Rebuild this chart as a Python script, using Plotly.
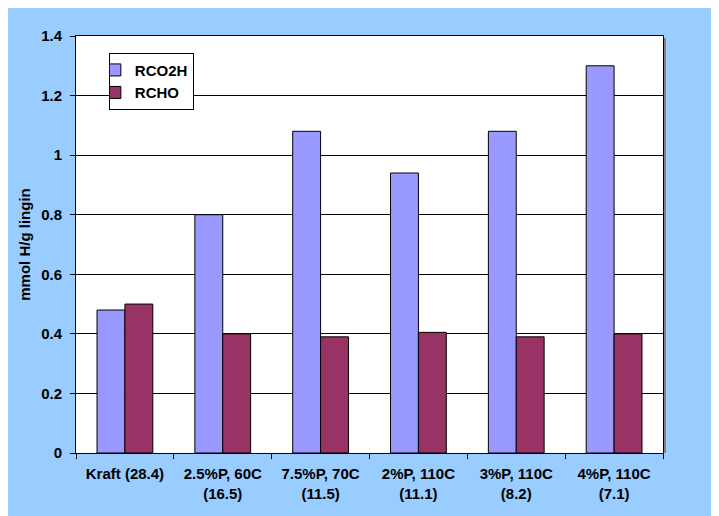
import plotly.graph_objects as go

categories = ["Kraft (28.4)", "2.5%P, 60C<br>(16.5)", "7.5%P, 70C<br>(11.5)",
              "2%P, 110C<br>(11.1)", "3%P, 110C<br>(8.2)", "4%P, 110C<br>(7.1)"]
rco2h = [0.48, 0.80, 1.08, 0.94, 1.08, 1.30]
rcho = [0.50, 0.40, 0.39, 0.405, 0.39, 0.40]
y_ticks = [0, 0.2, 0.4, 0.6, 0.8, 1, 1.2, 1.4]
y_tick_labels = ["0", "0.2", "0.4", "0.6", "0.8", "1", "1.2", "1.4"]

font = dict(family="Arial, Liberation Sans, sans-serif", size=15, color="black")

fig = go.Figure()
fig.add_trace(go.Bar(name="<b>RCO2H</b>", x=categories, y=rco2h,
                     marker=dict(color="#9999FF", line=dict(color="black", width=1))))
fig.add_trace(go.Bar(name="<b>RCHO</b>", x=categories, y=rcho,
                     marker=dict(color="#993366", line=dict(color="black", width=1))))

fig.update_layout(
    width=719, height=516,
    margin=dict(l=68, r=64, t=28, b=71),
    paper_bgcolor="#99CCFF", plot_bgcolor="white",
    barmode="group", bargap=0.43, bargroupgap=0,
    font=font,
    showlegend=True,
    legend=dict(x=0.056, y=0.96, xanchor="left", yanchor="top",
                bgcolor="white", bordercolor="black", borderwidth=1,
                font=dict(size=15), tracegroupgap=0, itemwidth=30, indentation=-15),
    xaxis=dict(tickmode="array", tickvals=categories,
               ticktext=["<b>" + c.replace("<br>", "</b><br><b>") + "</b>" for c in categories],
               tickson="boundaries", ticks="outside", ticklen=5, tickcolor="black",
               showline=True, linecolor="black", linewidth=1, mirror=True,
               ticklabelstandoff=7,
               tickfont=dict(size=15)),
    yaxis=dict(range=[0, 1.4], tickvals=y_ticks,
               ticktext=["<b>" + t + "</b>" for t in y_tick_labels],
               ticks="outside", ticklen=5, tickcolor="black",
               showline=True, linecolor="black", linewidth=1, mirror=True,
               showgrid=True, gridcolor="black", gridwidth=1,
               zeroline=False, ticklabelstandoff=5,
               title=dict(text="<b>mmol H/g lingin</b>", font=dict(size=15), standoff=6),
               tickfont=dict(size=15)),
    shapes=[
        dict(type="line", xref="paper", yref="paper", xsizemode="pixel", xanchor=1,
             x0=2, x1=2, y0=0, y1=0.995, line=dict(color="#808080", width=2), layer="above"),
    ],
)

fig.write_html("out.html")
